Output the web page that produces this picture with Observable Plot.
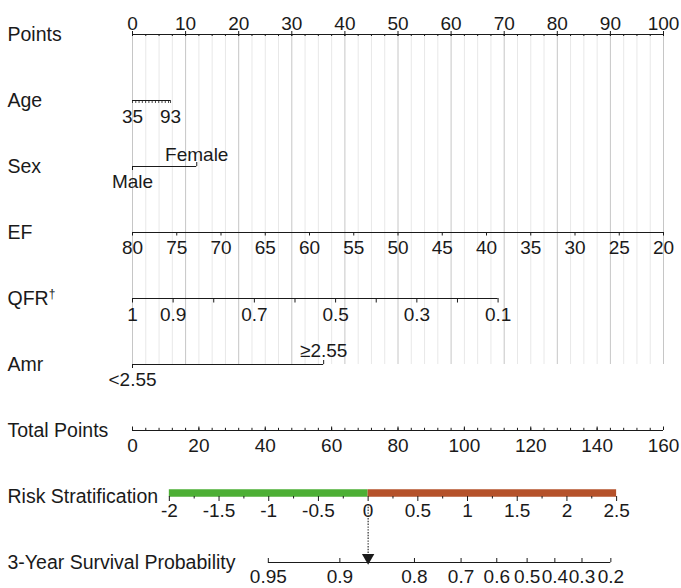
<!DOCTYPE html>
<html><head><meta charset="utf-8">
<script src="https://cdn.jsdelivr.net/npm/d3@7"></script>
<script src="https://cdn.jsdelivr.net/npm/@observablehq/plot@0.6"></script>
<style>
body{margin:0;background:#fff}
svg{display:block}
</style>
</head><body><div id="chart"></div>
<script>
// ---- data ----
const rowLabels = ["Points","Age","Sex","EF","QFR†","Amr","Total Points","Risk Stratification","3-Year Survival Probability"];
const pointsTicks = [0,10,20,30,40,50,60,70,80,90,100];
const pointsMinor = [0,2.5,5,7.5,10,12.5,15,17.5,20,22.5,25,27.5,30,32.5,35,37.5,40,42.5,45,47.5,50,52.5,55,57.5,60,62.5,65,67.5,70,72.5,75,77.5,80,82.5,85,87.5,90,92.5,95,97.5,100];
const ageTicks = [35,40,45,50,55,60,65,70,75,80,85,90,93];
const ageLabels = [35,93];
const sexLevels = ["Male","Female"];
const sexPoints = [0,12.1];
const efTicks = [80,75,70,65,60,55,50,45,40,35,30,25,20];
const qfrTicks = [1,0.9,0.8,0.7,0.6,0.5,0.4,0.3,0.2,0.1];
const qfrLabels = [1,0.9,0.7,0.5,0.3,0.1];
const amrLevels = ["<2.55","≥2.55"];
const amrPoints = [0,36];
const totalTicks = [0,20,40,60,80,100,120,140,160];
const totalMinor = d3.range(0,160.01,4);
const riskTicks = [-2,-1.5,-1,-0.5,0,0.5,1,1.5,2,2.5];
const riskMinor = [-1.75,-1.25,-0.75,-0.25,0.25,0.75,1.25,1.75,2.25];
const riskBands = [{from:-2,to:0,color:"#4daf35"},{from:0,to:2.5,color:"#b5522b"}];
const survTicks = [0.95,0.9,0.8,0.7,0.6,0.5,0.4,0.3,0.2];

// ---- model (point assignments) ----
const ageMin = 35, ageMax = 93, agePtsAtMax = 7.16;
const efPtsPerUnit = 100/60;
const qfrPtsPerUnit = 76.5;
const totalMax = 160;
const lpZeroTotal = 71.0, totalPerLp = 29.95;
const survBase = 1.966; // lp = ln(-ln S) + survBase

const ageX = a => (a-ageMin)/(ageMax-ageMin)*agePtsAtMax;
const efX = e => (80-e)*efPtsPerUnit;
const qfrX = q => (1-q)*qfrPtsPerUnit;
const totX = t => t*100/totalMax;
const lpX = lp => totX(lpZeroTotal + lp*totalPerLp);
const survX = s => lpX(Math.log(-Math.log(s)) + survBase);

const INK = "#1a1a1a";
const FS = 19;

function line(row, x1, x2, extra={}) {
  return Plot.ruleY([row], {y: d => d, x1: () => x1, x2: () => x2, stroke: INK, strokeWidth: 1.1, ...extra});
}
function ticks(values, fx, row, up, down, extra={}) {
  return Plot.ruleX(values, {x: fx, y1: () => row, y2: () => row, insetTop: -up, insetBottom: -down, stroke: INK, strokeWidth: 1, ...extra});
}
function labels(values, fx, row, dy, fmt = d => String(d), extra={}) {
  return Plot.text(values, {x: fx, y: () => row, text: fmt, dy, fontSize: FS, fill: INK, ...extra});
}

const R = rowLabels;
const chart = Plot.plot({
  width: 681, height: 588, margin: 0,
  style: {fontFamily: "'Liberation Sans', Arial, sans-serif", background: "#fff"},
  x: {domain: [0,100], range: [132,663], axis: null},
  y: {type: "point", domain: rowLabels, range: [33.3,562.8], padding: 0, axis: null},
  marks: [
    // grid
    Plot.ruleX(pointsMinor.filter(d => d % 10 !== 0), {x: d => d, y1: () => R[0], y2: () => R[5], stroke: "#e8e8e8", strokeWidth: 1}),
    Plot.ruleX(pointsTicks, {x: d => d, y1: () => R[0], y2: () => R[5], stroke: "#c6c6c6", strokeWidth: 1}),
    // row labels
    Plot.text(rowLabels, {y: d => d, text: d => d, frameAnchor: "left", textAnchor: "start", dx: 7, dy: 0.3, fontSize: 19.5, fill: INK}),
    // Points
    line(R[0], 0, 100),
    ticks(pointsMinor, d => d, R[0], 0, 2),
    ticks(pointsTicks, d => d, R[0], 3, 2),
    labels(pointsTicks, d => d, R[0], -11),
    // Age
    line(R[1], ageX(ageMin), ageX(ageMax)),
    ticks(ageTicks, ageX, R[1], 0, 3, {strokeWidth: 0.8}),
    labels(ageLabels, ageX, R[1], 16),
    // Sex
    line(R[2], sexPoints[0], sexPoints[1]),
    ticks([0], i => sexPoints[i], R[2], 0, 4),
    ticks([1], i => sexPoints[i], R[2], 4, 0),
    labels([0], i => sexPoints[i], R[2], 15, i => sexLevels[i]),
    labels([1], i => sexPoints[i], R[2], -11.5, i => sexLevels[i]),
    // EF
    line(R[3], efX(80), efX(20)),
    ticks(efTicks, efX, R[3], 0, 3.5),
    labels(efTicks, efX, R[3], 15.3),
    // QFR
    line(R[4], qfrX(1), qfrX(0.1)),
    ticks(qfrTicks, qfrX, R[4], 0, 4.5),
    labels(qfrLabels, qfrX, R[4], 16),
    // Amr
    line(R[5], amrPoints[0], amrPoints[1]),
    ticks([0], i => amrPoints[i], R[5], 0, 4),
    ticks([1], i => amrPoints[i], R[5], 4, 0),
    labels([0], i => amrPoints[i], R[5], 15.2, i => amrLevels[i]),
    labels([1], i => amrPoints[i], R[5], -13.6, i => amrLevels[i]),
    // Total Points
    line(R[6], totX(0), totX(160)),
    ticks(totalMinor, totX, R[6], 2.2, 0),
    ticks(totalTicks, totX, R[6], 3.5, 0),
    labels(totalTicks, totX, R[6], 15.3),
    // Risk Stratification
    Plot.ruleY(riskBands, {y: () => R[7], x1: d => lpX(d.from), x2: d => lpX(d.to), stroke: d => d.color, strokeWidth: 7.5, dy: -3.6}),
    ticks(riskMinor, lpX, R[7], 0, 2.5),
    ticks(riskTicks, lpX, R[7], 0, 5),
    labels(riskTicks, lpX, R[7], 14.9),
    // arrow from lp = 0
    Plot.ruleX([0], {x: lpX, y1: () => R[7], y2: () => R[8], insetTop: 8, insetBottom: 8, stroke: INK, strokeWidth: 1.1, strokeDasharray: "1.4,1.4"}),
    Plot.dot([0], {x: lpX, y: () => R[8], symbol: "triangle", rotate: 180, r: 4.6, fill: INK, stroke: "none", dy: -5}),
    // Survival
    line(R[8], survX(0.95), survX(0.2)),
    ticks(survTicks, survX, R[8], 4, 0),
    labels(survTicks, survX, R[8], 14.9)
  ]
});
document.getElementById("chart").appendChild(chart);

// superscript dagger on QFR
chart.querySelectorAll("text").forEach(t => {
  if (t.textContent === "QFR†") {
    t.textContent = "QFR";
    const ts = document.createElementNS("http://www.w3.org/2000/svg", "tspan");
    ts.setAttribute("font-size", "12");
    ts.setAttribute("dy", "-7");
    ts.textContent = "†";
    t.appendChild(ts);
  }
});
</script>
</body></html>
